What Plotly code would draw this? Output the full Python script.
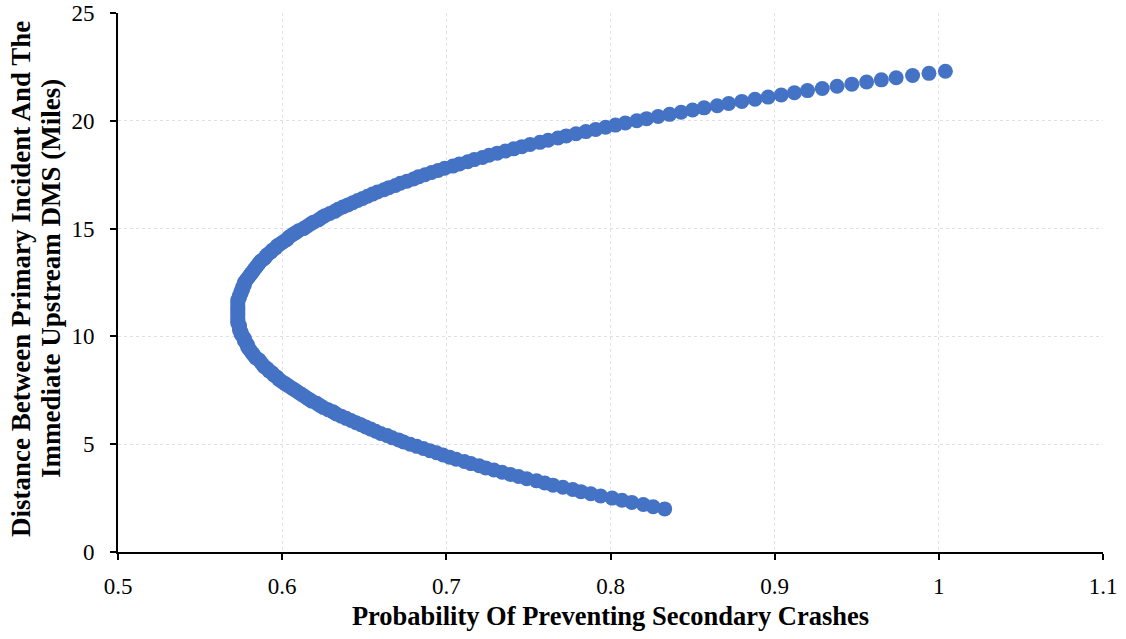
import plotly.graph_objects as go

# Distance between primary incident and immediate upstream DMS (miles)
distance_miles = [
    2.0, 2.1, 2.2, 2.3, 2.4, 2.5, 2.6, 2.7, 2.8, 2.9,
    3.0, 3.1, 3.2, 3.3, 3.4, 3.5, 3.6, 3.7, 3.8, 3.9,
    4.0, 4.1, 4.2, 4.3, 4.4, 4.5, 4.6, 4.7, 4.8, 4.9,
    5.0, 5.1, 5.2, 5.3, 5.4, 5.5, 5.6, 5.7, 5.8, 5.9,
    6.0, 6.1, 6.2, 6.3, 6.4, 6.5, 6.6, 6.7, 6.8, 6.9,
    7.0, 7.1, 7.2, 7.3, 7.4, 7.5, 7.6, 7.7, 7.8, 7.9,
    8.0, 8.1, 8.2, 8.3, 8.4, 8.5, 8.6, 8.7, 8.8, 8.9,
    9.0, 9.1, 9.2, 9.3, 9.4, 9.5, 9.6, 9.7, 9.8, 9.9,
    10.0, 10.1, 10.2, 10.3, 10.4, 10.5, 10.6, 10.7, 10.8, 10.9,
    11.0, 11.1, 11.2, 11.3, 11.4, 11.5, 11.6, 11.7, 11.8, 11.9,
    12.0, 12.1, 12.2, 12.3, 12.4, 12.5, 12.6, 12.7, 12.8, 12.9,
    13.0, 13.1, 13.2, 13.3, 13.4, 13.5, 13.6, 13.7, 13.8, 13.9,
    14.0, 14.1, 14.2, 14.3, 14.4, 14.5, 14.6, 14.7, 14.8, 14.9,
    15.0, 15.1, 15.2, 15.3, 15.4, 15.5, 15.6, 15.7, 15.8, 15.9,
    16.0, 16.1, 16.2, 16.3, 16.4, 16.5, 16.6, 16.7, 16.8, 16.9,
    17.0, 17.1, 17.2, 17.3, 17.4, 17.5, 17.6, 17.7, 17.8, 17.9,
    18.0, 18.1, 18.2, 18.3, 18.4, 18.5, 18.6, 18.7, 18.8, 18.9,
    19.0, 19.1, 19.2, 19.3, 19.4, 19.5, 19.6, 19.7, 19.8, 19.9,
    20.0, 20.1, 20.2, 20.3, 20.4, 20.5, 20.6, 20.7, 20.8, 20.9,
    21.0, 21.1, 21.2, 21.3, 21.4, 21.5, 21.6, 21.7, 21.8, 21.9,
    22.0, 22.1, 22.2, 22.3,
]

# Probability of preventing secondary crashes
prob_prevent = [
    0.833, 0.826, 0.820, 0.813, 0.807, 0.801, 0.794, 0.788, 0.782, 0.777,
    0.771, 0.765, 0.760, 0.755, 0.749, 0.744, 0.739, 0.734, 0.729, 0.724,
    0.720, 0.715, 0.711, 0.706, 0.702, 0.698, 0.694, 0.690, 0.686, 0.682,
    0.678, 0.674, 0.671, 0.667, 0.664, 0.660, 0.657, 0.654, 0.651, 0.648,
    0.645, 0.642, 0.639, 0.636, 0.633, 0.631, 0.628, 0.625, 0.623, 0.621,
    0.618, 0.616, 0.614, 0.612, 0.610, 0.608, 0.606, 0.604, 0.602, 0.600,
    0.598, 0.597, 0.595, 0.594, 0.592, 0.591, 0.589, 0.588, 0.587, 0.586,
    0.584, 0.583, 0.582, 0.581, 0.580, 0.579, 0.579, 0.578, 0.577, 0.577,
    0.576, 0.575, 0.575, 0.574, 0.574, 0.574, 0.573, 0.573, 0.573, 0.573,
    0.573, 0.573, 0.573, 0.573, 0.573, 0.573, 0.573, 0.573, 0.574, 0.574,
    0.575, 0.575, 0.576, 0.576, 0.577, 0.577, 0.578, 0.579, 0.580, 0.581,
    0.582, 0.583, 0.584, 0.585, 0.586, 0.587, 0.589, 0.590, 0.591, 0.593,
    0.594, 0.596, 0.597, 0.599, 0.601, 0.603, 0.604, 0.606, 0.608, 0.610,
    0.613, 0.615, 0.617, 0.619, 0.622, 0.624, 0.626, 0.629, 0.632, 0.634,
    0.637, 0.640, 0.643, 0.646, 0.649, 0.652, 0.655, 0.658, 0.662, 0.665,
    0.669, 0.672, 0.676, 0.680, 0.683, 0.687, 0.691, 0.695, 0.699, 0.704,
    0.708, 0.713, 0.717, 0.722, 0.726, 0.731, 0.736, 0.741, 0.746, 0.751,
    0.757, 0.762, 0.768, 0.773, 0.779, 0.785, 0.791, 0.797, 0.803, 0.809,
    0.816, 0.822, 0.829, 0.836, 0.843, 0.850, 0.857, 0.865, 0.872, 0.880,
    0.888, 0.896, 0.904, 0.912, 0.920, 0.929, 0.938, 0.947, 0.956, 0.965,
    0.974, 0.984, 0.994, 1.004,
]

x_title = "Probability Of Preventing Secondary Crashes"
y_title_lines = ["Distance Between Primary Incident And The", "Immediate Upstream DMS (Miles)"]

FONT = "Liberation Serif, Times New Roman, serif"

fig = go.Figure(
    go.Scatter(
        x=prob_prevent,
        y=distance_miles,
        mode="markers",
        marker=dict(color="#4472C4", size=15, line=dict(width=0)),
        showlegend=False,
    )
)

axis_common = dict(
    showgrid=True,
    gridcolor="#e0e0e0",
    griddash="dot",
    gridwidth=1,
    showline=True,
    linecolor="black",
    linewidth=2,
    ticks="outside",
    ticklen=6,
    tickwidth=2,
    tickcolor="black",
    zeroline=False,
    automargin=False,
    tickfont=dict(family=FONT, size=23, color="black"),
)

fig.update_layout(
    width=1126,
    height=639,
    margin=dict(l=118, r=23, t=13, b=87),
    paper_bgcolor="white",
    plot_bgcolor="white",
    font=dict(family=FONT, color="black"),
    xaxis=dict(
        range=[0.5, 1.1],
        tick0=0.5,
        dtick=0.1,
        ticklabelstandoff=6,
        title=dict(text="<b>" + x_title + "</b>", font=dict(family=FONT, size=26.5, color="black"), standoff=9),
        **axis_common,
    ),
    yaxis=dict(
        range=[0, 25],
        tick0=0,
        dtick=5,
        ticklabelstandoff=11,
        **axis_common,
    ),
)

# Two-line rotated y-axis title, placed as annotations for exact line spacing
for line_text, x_paper in zip(y_title_lines, [-0.0985, -0.068]):
    fig.add_annotation(
        text="<b>" + line_text + "</b>",
        xref="paper",
        yref="paper",
        x=x_paper,
        y=0.5065,
        xanchor="center",
        yanchor="middle",
        textangle=-90,
        showarrow=False,
        font=dict(family=FONT, size=27, color="black"),
    )

fig.write_html("out.html")
